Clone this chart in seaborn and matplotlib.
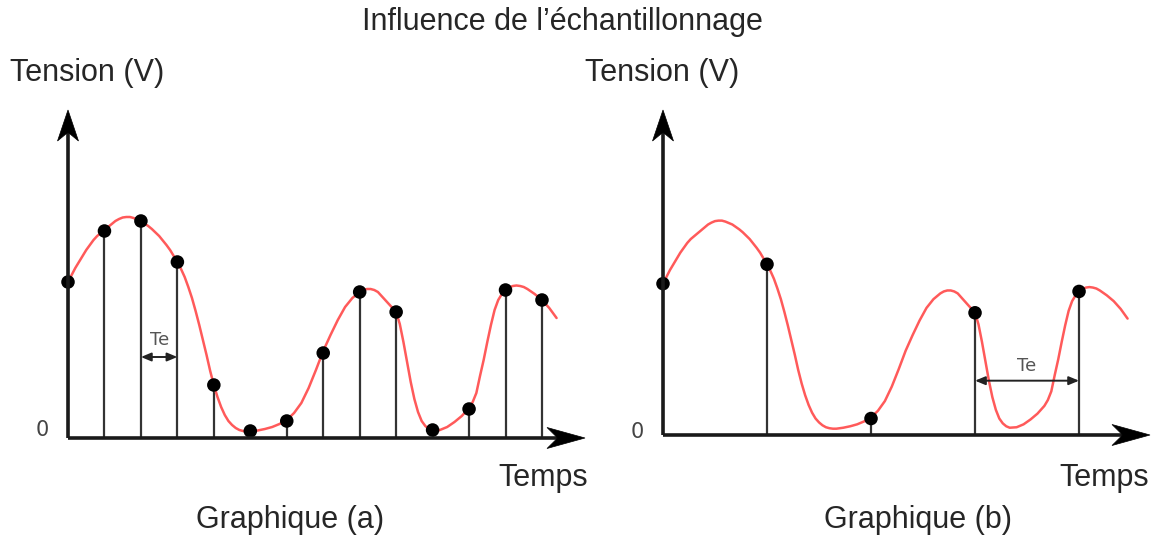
import matplotlib
matplotlib.use("Agg")
import matplotlib.pyplot as plt
from matplotlib.patches import Polygon
from matplotlib.transforms import Affine2D
import seaborn as sns

# ─── Data ─────────────────────────────────────────────────────────────────────
# continuous signal (time in sample periods of graph (a), tension in arbitrary units)
signal_t = [0.0, 0.1, 0.2, 0.3, 0.4, 0.5, 0.6, 0.7, 0.8, 0.9,
            1.0, 1.1, 1.2, 1.3, 1.4, 1.5, 1.6, 1.7, 1.8, 1.9,
            2.0, 2.1, 2.2, 2.3, 2.4, 2.5, 2.6, 2.7, 2.8, 2.9,
            3.0, 3.1, 3.2, 3.3, 3.4, 3.5, 3.6, 3.7, 3.8, 3.9,
            4.0, 4.1, 4.2, 4.3, 4.4, 4.5, 4.6, 4.7, 4.8, 4.9,
            5.0, 5.2, 5.4, 5.6, 5.8, 6.0, 6.2, 6.4, 6.6, 6.8,
            7.0, 7.2, 7.4, 7.6, 7.8, 8.0, 8.1, 8.2, 8.3, 8.4,
            8.5, 8.6, 8.7, 8.8, 8.9, 9.0, 9.1, 9.2, 9.3, 9.4,
            9.5, 9.6, 9.7, 9.8, 9.9, 10.0, 10.2, 10.4, 10.6, 10.8,
            11.0, 11.1, 11.2, 11.3, 11.4, 11.5, 11.6, 11.7, 11.8, 11.9,
            12.0, 12.1, 12.2, 12.3, 12.4, 12.5, 12.6, 12.7, 12.8, 12.9,
            13.0, 13.1, 13.2, 13.3, 13.4]
signal_v = [156, 163, 170, 176, 182, 188, 193, 198, 202, 205,
            208, 211, 214, 217, 219, 220.5, 221, 221, 220, 218.5,
            217, 214.5, 212, 209, 205.5, 202, 197.5, 193, 188, 182,
            176, 169, 161, 151, 140, 127, 113, 98, 83, 67,
            53, 41, 31, 23, 17, 13, 10, 8, 7, 6.5,
            6.5, 7.5, 9, 11, 14, 18, 25, 35, 50, 68,
            87, 103, 118, 131, 140, 146, 148, 149, 149, 148,
            146, 142, 138, 134, 130, 126, 114, 96, 76, 56,
            39, 26, 17, 12, 9, 7.5, 8, 11, 16, 22,
            30, 36, 45, 62, 78, 96, 113, 128, 138, 144,
            148, 150.5, 152, 152.5, 152, 151, 149, 146.5, 144, 141,
            138, 134, 130, 125, 120]

samples_a_t = [0, 1, 2, 3, 4, 5, 6, 7, 8, 9, 10, 11, 12, 13]
samples_a_v = [156, 207, 217, 176, 53, 7, 17, 85, 146, 126, 8, 29, 148, 138]
samples_b_t = [0, 3, 6, 9, 12]
samples_b_v = [156, 176, 17, 126, 148]

title = "Influence de l’échantillonnage"
y_label = "Tension (V)"
x_label = "Temps"
panel_labels = ["Graphique (a)", "Graphique (b)"]

# ─── Style ────────────────────────────────────────────────────────────────────
W, H = 1156, 535
sns.set_style("white")
plt.rcParams["font.family"] = ["Liberation Sans", "DejaVu Sans"]

RED = "#ff5a5a"
STEM = "#333333"
AXIS = "#1a1a1a"
GREY = "#555555"


def px(x, y):
    """pixel position (y down) -> figure fraction"""
    return x / W, 1 - y / H


def make_panel(fig, x0, y0, sx, sy, w_px, h_px):
    left, bottom = px(x0, y0)
    ax = fig.add_axes([left, bottom, w_px / W, h_px / H])
    ax.set_xlim(0, w_px / sx)
    ax.set_ylim(0, h_px / sy)
    ax.axis("off")
    return ax


def stealth_head(fig, tip, direction, length, width):
    """concave arrow head drawn in pixel space (y up)"""
    tx, ty = tip
    dx, dy = direction
    nx, ny = -dy, dx
    pts = [(tx, ty),
           (tx - dx * length + nx * width / 2, ty - dy * length + ny * width / 2),
           (tx - dx * length * 0.72, ty - dy * length * 0.72),
           (tx - dx * length - nx * width / 2, ty - dy * length - ny * width / 2)]
    trans = Affine2D().scale(1 / W, 1 / H) + fig.transFigure
    fig.patches.append(Polygon(pts, closed=True, facecolor="black",
                               edgecolor="black", lw=0.5, transform=trans,
                               figure=fig, zorder=10))


def draw_axes_arrows(fig, x0, y0, x_tip, y_tip):
    # pixel coordinates, y down as read on the reference
    fig.add_artist(plt.Line2D([x0 / W, (x_tip - 26) / W], [1 - y0 / H] * 2,
                              color=AXIS, lw=2.6, solid_capstyle="butt",
                              transform=fig.transFigure))
    fig.add_artist(plt.Line2D([x0 / W] * 2, [1 - y0 / H, 1 - (y_tip + 22) / H],
                              color=AXIS, lw=2.6, solid_capstyle="butt",
                              transform=fig.transFigure))
    stealth_head(fig, (x_tip, H - y0), (1, 0), 38, 21)
    stealth_head(fig, (x0, H - y_tip), (0, 1), 31, 21)


def draw_signal(ax, ts, vs):
    sns.lineplot(x=signal_t, y=signal_v, ax=ax, color=RED, lw=1.8,
                 sort=False, estimator=None, zorder=3)
    ax.vlines(ts, 0, vs, colors=STEM, lw=1.6, zorder=2)
    sns.scatterplot(x=ts, y=vs, ax=ax, color="black", s=95,
                    edgecolor="none", zorder=5, clip_on=False, legend=False)


def draw_te(ax, t0, t1, y_arrow, y_text):
    ax.annotate("", xy=(t1, y_arrow), xytext=(t0, y_arrow),
                arrowprops=dict(arrowstyle="<|-|>,head_length=0.6,head_width=0.25",
                                mutation_scale=10, lw=1.4, color="#222222",
                                shrinkA=0, shrinkB=0))
    ax.text((t0 + t1) / 2, y_text, "Te", ha="center", va="center",
            fontsize=13, color=GREY, family="DejaVu Sans")


fig = plt.figure(figsize=(W / 100, H / 100), dpi=100)

# ── Graphique (a) ─────────────────────────────────────────────────────────────
ax_a = make_panel(fig, 68, 438, 36.46, 1.0, 522, 338)
draw_signal(ax_a, samples_a_t, samples_a_v)
draw_te(ax_a, 2, 3, 81, 98)
draw_axes_arrows(fig, 68, 438, 585, 110)

# ── Graphique (b) ─────────────────────────────────────────────────────────────
ax_b = make_panel(fig, 663, 435, 34.67, 0.97, 492, 335)
draw_signal(ax_b, samples_b_t, samples_b_v)
draw_te(ax_b, 9, 12, 56, 71)
draw_axes_arrows(fig, 663, 435, 1150, 110)

# ── Texts ─────────────────────────────────────────────────────────────────────
fs = 22
fig.text(*px(562, 22), title, ha="center", va="center", fontsize=fs)
for x_t, x_temps, x_g, x_zero, y_zero, lab in [
        (10, 543, 290, 42, 430, panel_labels[0]),
        (585, 1104, 918, 637, 432, panel_labels[1])]:
    fig.text(*px(x_t, 73), y_label, ha="left", va="center", fontsize=fs)
    fig.text(*px(x_temps, 478), x_label, ha="center", va="center", fontsize=fs)
    fig.text(*px(x_g, 520), lab, ha="center", va="center", fontsize=fs)
    fig.text(*px(x_zero, y_zero), "0", ha="center", va="center",
             fontsize=15, color="#444444", family="DejaVu Sans")

fig.savefig("out.png", dpi=100, facecolor="white")
plt.close(fig)
